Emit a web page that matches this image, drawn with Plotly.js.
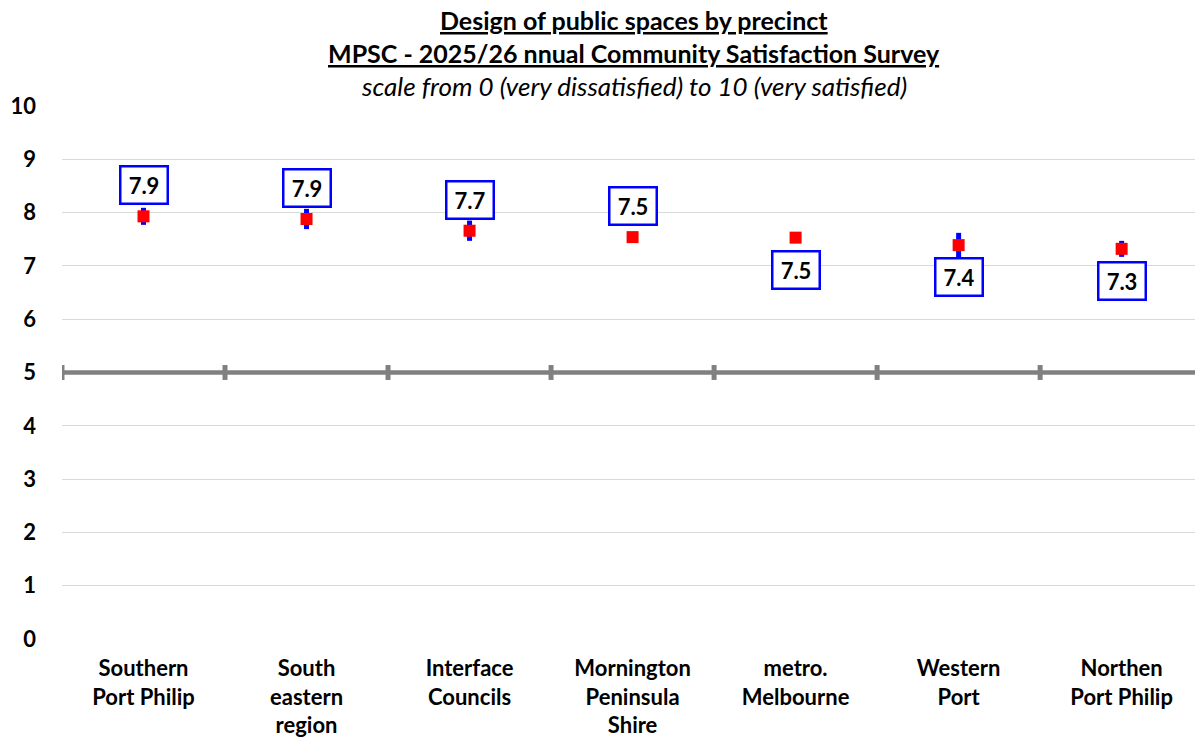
<!DOCTYPE html>
<html>
<head>
<meta charset="utf-8">
<script src="https://cdn.plot.ly/plotly-3.0.1.min.js"></script>
<style>html,body{margin:0;padding:0;background:#fff;}</style>
</head>
<body>
<div id="chart" style="width:1195px;height:737px;"></div>
<script>
var categories = ["Southern<br>Port Philip", "South<br>eastern<br>region", "Interface<br>Councils", "Mornington<br>Peninsula<br>Shire", "metro.<br>Melbourne", "Western<br>Port", "Northen<br>Port Philip"];
var scores = [7.93, 7.88, 7.66, 7.54, 7.53, 7.39, 7.32];
var errors = [0.16, 0.19, 0.19, 0.08, 0, 0.23, 0.15];
var yTicks = [0, 1, 2, 3, 4, 5, 6, 7, 8, 9, 10];
var titleLines = ["<u><b>Design of public spaces by precinct</b></u>", "<u><b>MPSC - 2025/26 nnual Community Satisfaction Survey</b></u>", "<i>scale from 0 (very dissatisfied) to 10 (very satisfied)</i>"];
var axisCross = 5;
var labelsAboveCount = 4;

var FONT = "Lato, 'Open Sans', sans-serif";
var xs = categories.map(function(c, i){ return i; });

var trace = {
  type: "scatter", mode: "markers",
  x: xs, y: scores,
  marker: {symbol: "square", color: "#ff0000", size: 12},
  error_y: {type: "data", array: errors, visible: true, color: "#0000ff", thickness: 5, width: 0},
  hoverinfo: "skip", showlegend: false
};

var annotations = [];
var titleY = [1.161, 1.099, 1.038];
var titleSize = [25, 25, 26];
titleLines.forEach(function(t, i){
  annotations.push({xref: "paper", yref: "paper", x: 0.505, y: titleY[i], xanchor: "center", yanchor: "middle",
    text: t, showarrow: false, font: {family: FONT, size: titleSize[i], color: "#000"}});
});
scores.forEach(function(v, i){
  var above = i < labelsAboveCount;
  annotations.push({x: i, y: v, xref: "x", yref: "y", text: "<b>" + v.toFixed(1) + "</b>", showarrow: false,
    yshift: above ? 31 : -32, width: 43, height: 33, borderwidth: 2.5, borderpad: 1,
    bordercolor: "#0000ff", bgcolor: "#ffffff", font: {family: FONT, size: 22, color: "#000"}});
});

var shapes = [{type: "line", xref: "x", yref: "y", x0: -0.5, x1: categories.length - 0.5, y0: axisCross, y1: axisCross,
  line: {color: "#808080", width: 4.5}}];
for (var b = 0; b <= categories.length; b++) {
  shapes.push({type: "line", xref: "x", yref: "y", x0: b - 0.5, x1: b - 0.5, y0: axisCross - 0.14, y1: axisCross + 0.14,
    line: {color: "#808080", width: 5}});
}

var layout = {
  width: 1195, height: 737,
  margin: {l: 62, r: 0, t: 106, b: 98},
  paper_bgcolor: "#fff", plot_bgcolor: "#fff",
  font: {family: FONT, color: "#000"},
  xaxis: {type: "linear", range: [-0.5, 6.45], tickmode: "array", tickvals: xs, ticktext: categories,
    showgrid: false, zeroline: false, showline: false, ticks: "",
    tickfont: {family: FONT, size: 22, color: "#000", weight: "bold"}, ticklabelstandoff: 14},
  yaxis: {range: [0, 10], tickmode: "array", tickvals: yTicks, ticktext: yTicks.map(String),
    showgrid: true, gridcolor: "#d9d9d9", gridwidth: 1, zeroline: false, showline: false, ticks: "",
    tickfont: {family: FONT, size: 22, color: "#000", weight: "bold"}, ticklabelstandoff: 25},
  annotations: annotations,
  shapes: shapes,
  showlegend: false
};

Plotly.newPlot("chart", [trace], layout, {displayModeBar: false, staticPlot: true});
</script>
</body>
</html>
